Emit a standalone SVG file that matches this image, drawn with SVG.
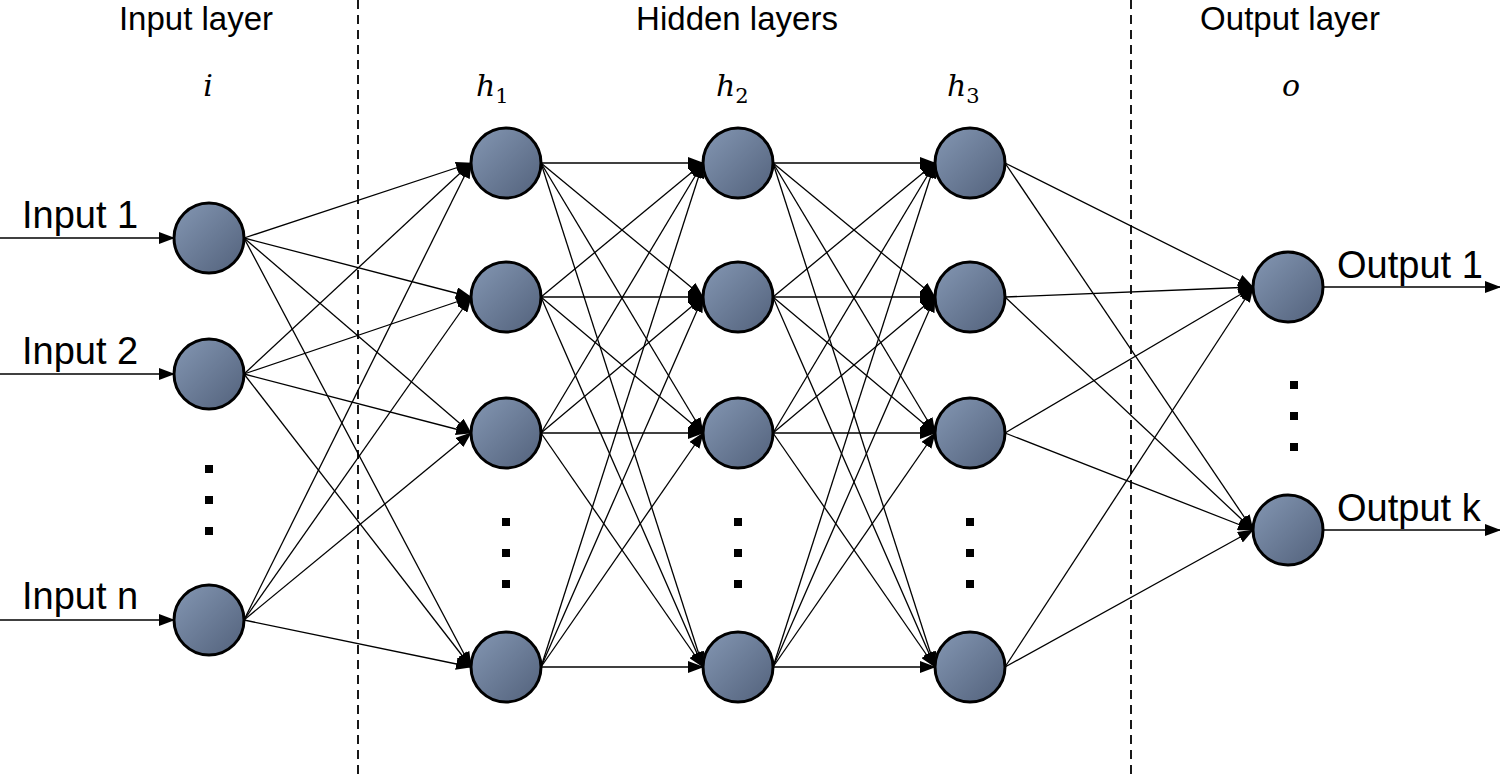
<svg xmlns="http://www.w3.org/2000/svg" width="1500" height="776" viewBox="0 0 1500 776">
<style>
.t{font-family:"Liberation Sans",Arial,sans-serif;font-size:30px;fill:#000}
.h{font-family:"Liberation Sans",Arial,sans-serif;font-size:33px;fill:#000}
.m{font-family:"DejaVu Serif","Liberation Serif",serif;font-style:italic;font-size:30px;fill:#000}
.s{font-family:"DejaVu Serif","Liberation Serif",serif;font-style:normal;font-size:21px;fill:#000}
.e line{stroke:#000;stroke-width:1.3;marker-end:url(#b)}
.n{fill:url(#g);stroke:#000;stroke-width:3}
.d{stroke:#000;stroke-width:1.8;stroke-dasharray:9,6}
</style>
<defs>
<linearGradient id="g" x1="0" y1="0" x2="1" y2="1"><stop offset="0" stop-color="#8497b3"/><stop offset="1" stop-color="#52617b"/></linearGradient>
<marker id="b" markerUnits="userSpaceOnUse" markerWidth="16" markerHeight="12" refX="15" refY="6" orient="auto"><path d="M0,0L16,6L0,12z"/></marker>
</defs>
<rect width="1500" height="776" fill="#fff"/>
<line class="d" x1="358" y1="0" x2="358" y2="776"/>
<line class="d" x1="1131" y1="0" x2="1131" y2="776"/>
<text class="h" x="196" y="30" text-anchor="middle">Input layer</text>
<text class="h" x="737" y="30" text-anchor="middle">Hidden layers</text>
<text class="h" x="1290" y="30" text-anchor="middle">Output layer</text>
<text class="m" x="208" y="96" text-anchor="middle">i</text>
<text class="m" x="476" y="96">h<tspan class="s" dy="7">1</tspan></text>
<text class="m" x="716" y="96">h<tspan class="s" dy="7">2</tspan></text>
<text class="m" x="947" y="96">h<tspan class="s" dy="7">3</tspan></text>
<text class="m" x="1291" y="96" text-anchor="middle">o</text>
<text class="t" style="font-size:38px" x="22" y="228">Input 1</text>
<text class="t" style="font-size:38px" x="22" y="364">Input 2</text>
<text class="t" style="font-size:38px" x="22" y="609">Input n</text>
<text class="t" style="font-size:38px" x="1337" y="278">Output 1</text>
<text class="t" style="font-size:38px" x="1337" y="521">Output k</text>
<g fill="#000">
<rect x="205" y="465" width="8" height="8"/><rect x="205" y="496" width="8" height="8"/><rect x="205" y="527" width="8" height="8"/>
<rect x="502" y="518" width="8" height="8"/><rect x="502" y="549" width="8" height="8"/><rect x="502" y="580" width="8" height="8"/>
<rect x="734" y="518" width="8" height="8"/><rect x="734" y="549" width="8" height="8"/><rect x="734" y="580" width="8" height="8"/>
<rect x="966" y="518" width="8" height="8"/><rect x="966" y="549" width="8" height="8"/><rect x="966" y="580" width="8" height="8"/>
<rect x="1290" y="381" width="8" height="8"/><rect x="1290" y="412" width="8" height="8"/><rect x="1290" y="443" width="8" height="8"/>
</g>
<g id="connectors" class="e">
<line x1="0" y1="238" x2="174" y2="238"/>
<line x1="0" y1="374" x2="174" y2="374"/>
<line x1="0" y1="620" x2="174" y2="620"/>
<line x1="1323" y1="287" x2="1500" y2="287"/>
<line x1="1323" y1="530" x2="1500" y2="530"/>
<line x1="244" y1="238" x2="471" y2="163"/><line x1="244" y1="238" x2="471" y2="297"/><line x1="244" y1="238" x2="471" y2="433"/><line x1="244" y1="238" x2="471" y2="667"/>
<line x1="244" y1="374" x2="471" y2="163"/><line x1="244" y1="374" x2="471" y2="297"/><line x1="244" y1="374" x2="471" y2="433"/><line x1="244" y1="374" x2="471" y2="667"/>
<line x1="244" y1="620" x2="471" y2="163"/><line x1="244" y1="620" x2="471" y2="297"/><line x1="244" y1="620" x2="471" y2="433"/><line x1="244" y1="620" x2="471" y2="667"/>
<line x1="541" y1="163" x2="703" y2="163"/><line x1="541" y1="163" x2="703" y2="297"/><line x1="541" y1="163" x2="703" y2="433"/><line x1="541" y1="163" x2="703" y2="667"/>
<line x1="541" y1="297" x2="703" y2="163"/><line x1="541" y1="297" x2="703" y2="297"/><line x1="541" y1="297" x2="703" y2="433"/><line x1="541" y1="297" x2="703" y2="667"/>
<line x1="541" y1="433" x2="703" y2="163"/><line x1="541" y1="433" x2="703" y2="297"/><line x1="541" y1="433" x2="703" y2="433"/><line x1="541" y1="433" x2="703" y2="667"/>
<line x1="541" y1="667" x2="703" y2="163"/><line x1="541" y1="667" x2="703" y2="297"/><line x1="541" y1="667" x2="703" y2="433"/><line x1="541" y1="667" x2="703" y2="667"/>
<line x1="773" y1="163" x2="935" y2="163"/><line x1="773" y1="163" x2="935" y2="297"/><line x1="773" y1="163" x2="935" y2="433"/><line x1="773" y1="163" x2="935" y2="667"/>
<line x1="773" y1="297" x2="935" y2="163"/><line x1="773" y1="297" x2="935" y2="297"/><line x1="773" y1="297" x2="935" y2="433"/><line x1="773" y1="297" x2="935" y2="667"/>
<line x1="773" y1="433" x2="935" y2="163"/><line x1="773" y1="433" x2="935" y2="297"/><line x1="773" y1="433" x2="935" y2="433"/><line x1="773" y1="433" x2="935" y2="667"/>
<line x1="773" y1="667" x2="935" y2="163"/><line x1="773" y1="667" x2="935" y2="297"/><line x1="773" y1="667" x2="935" y2="433"/><line x1="773" y1="667" x2="935" y2="667"/>
<line x1="1005" y1="163" x2="1253" y2="287"/><line x1="1005" y1="163" x2="1253" y2="530"/>
<line x1="1005" y1="297" x2="1253" y2="287"/><line x1="1005" y1="297" x2="1253" y2="530"/>
<line x1="1005" y1="433" x2="1253" y2="287"/><line x1="1005" y1="433" x2="1253" y2="530"/>
<line x1="1005" y1="667" x2="1253" y2="287"/><line x1="1005" y1="667" x2="1253" y2="530"/>
</g>
<g id="i1"><circle class="n" cx="209" cy="238" r="35"/></g>
<g id="i2"><circle class="n" cx="209" cy="374" r="35"/></g>
<g id="in"><circle class="n" cx="209" cy="620" r="35"/></g>
<g id="h1a"><circle class="n" cx="506" cy="163" r="35"/></g>
<g id="h1b"><circle class="n" cx="506" cy="297" r="35"/></g>
<g id="h1c"><circle class="n" cx="506" cy="433" r="35"/></g>
<g id="h1d"><circle class="n" cx="506" cy="667" r="35"/></g>
<g id="h2a"><circle class="n" cx="738" cy="163" r="35"/></g>
<g id="h2b"><circle class="n" cx="738" cy="297" r="35"/></g>
<g id="h2c"><circle class="n" cx="738" cy="433" r="35"/></g>
<g id="h2d"><circle class="n" cx="738" cy="667" r="35"/></g>
<g id="h3a"><circle class="n" cx="970" cy="163" r="35"/></g>
<g id="h3b"><circle class="n" cx="970" cy="297" r="35"/></g>
<g id="h3c"><circle class="n" cx="970" cy="433" r="35"/></g>
<g id="h3d"><circle class="n" cx="970" cy="667" r="35"/></g>
<g id="o1"><circle class="n" cx="1288" cy="287" r="35"/></g>
<g id="ok"><circle class="n" cx="1288" cy="530" r="35"/></g>
</svg>
